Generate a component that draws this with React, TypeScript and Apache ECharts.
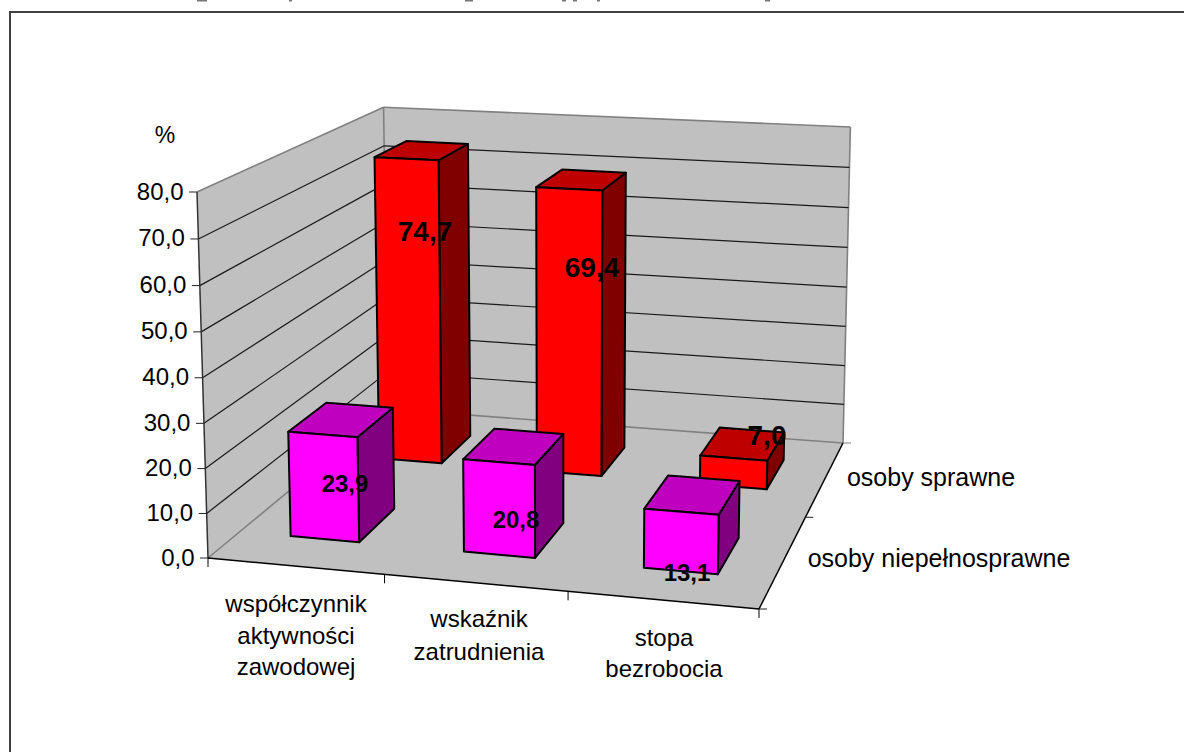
import React, { useEffect, useRef } from "react";
import * as echarts from "echarts";

// ---- data ----
const categoryLines = [
  ["współczynnik", "aktywności", "zawodowej"],
  ["wskaźnik", "zatrudnienia"],
  ["stopa", "bezrobocia"],
];
const depthNames = ["osoby niepełnosprawne", "osoby sprawne"];
const disabledValues = [23.9, 20.8, 13.1];
const ableValues = [74.7, 69.4, 7.0];
const valueTicks = [0, 10, 20, 30, 40, 50, 60, 70, 80];
const axisUnit = "%";

// ---- layout: the eight-cornered box drawn in perspective ----
const A = [208, 558]; // front left floor
const B = [759, 609]; // front right floor
const C = [388, 409]; // back left floor
const D = [843, 443]; // back right floor
const E = [197, 192]; // front left top
const WW = 0.97;

const det = (B[0] - D[0]) * (C[1] - D[1]) - (C[0] - D[0]) * (B[1] - D[1]);
const WU = ((A[0] - D[0]) * (C[1] - D[1]) - (C[0] - D[0]) * (A[1] - D[1])) / det;
const WV = ((B[0] - D[0]) * (A[1] - D[1]) - (A[0] - D[0]) * (B[1] - D[1])) / det;

function project(u: number, v: number, w: number): number[] {
  const den = 1 + u * (WU - 1) + v * (WV - 1) + w * (WW - 1);
  const f = (i: number) =>
    (A[i] + u * (WU * B[i] - A[i]) + v * (WV * C[i] - A[i]) + w * (WW * E[i] - A[i])) / den;
  return [f(0), f(1)];
}

// The hidden cartesian grid: its scales turn (category position, value) into pixels,
// and these are read as fractions of the box before projection.
const GRID = { left: 100, top: 100, width: 900, height: 500 };
function toBox(api: any, cat: number, value: number): [number, number] {
  const c = api.coord([cat, value]);
  return [(c[0] - GRID.left) / GRID.width, (GRID.top + GRID.height - c[1]) / GRID.height];
}

const FONT = "'Liberation Sans', Arial, sans-serif";
const AXIS_SIZE = 24;
const DEPTH_SIZE = 25;
const WALL = "#C0C0C0";
const EDGE = "#808080";
const GRIDLINE = "#1a1a1a";

const catLabelPos = [
  [296, [603, 635, 666]],
  [479, [618, 651]],
  [664, [637, 668]],
] as [number, number[]][];
const depthLabelPos = [
  [939, 558],
  [931, 477],
];
const unitPos = [165, 135];
const valueLabelPos = {
  disabled: [[345, 483, 24], [516, 519, 24], [687, 572, 24]],
  able: [[425, 231, 28], [592, 267, 28], [767, 435, 28]],
};
const titleBits = [[197, 10], [289, 3], [465, 8], [562, 4], [573, 4], [597, 3], [765, 5]];

const line = (p: number[], q: number[], stroke: string, lineWidth = 1) => ({
  type: "line",
  silent: true,
  shape: { x1: p[0], y1: p[1], x2: q[0], y2: q[1] },
  style: { stroke, lineWidth },
});
const poly = (pts: number[][], fill: string, stroke: string, lineWidth = 0) => ({
  type: "polygon",
  silent: true,
  shape: { points: pts },
  style: { fill, stroke, lineWidth, lineJoin: "round" },
});
const text = (t: string, x: number, y: number, size: number, align = "center", bold = false) => ({
  type: "text",
  silent: true,
  style: {
    text: t,
    x,
    y,
    fill: "#000",
    fontFamily: FONT,
    fontSize: size,
    fontWeight: bold ? "bold" : "normal",
    align,
    verticalAlign: "middle",
  },
});

const fmt = (n: number) => n.toFixed(1).replace(".", ",");

function wallsItem(_p: any, api: any) {
  const [u0, w0] = toBox(api, 0, 0);
  const [u1, w1] = toBox(api, 3, 80);
  const a = project(u0, 0, w0);
  const b = project(u1, 0, w0);
  const c = project(u0, 1, w0);
  const d = project(u1, 1, w0);
  const e = project(u0, 0, w1);
  const f = project(u0, 1, w1);
  const g = project(u1, 1, w1);
  return {
    type: "group",
    children: [
      poly([a, b, d, c], WALL, WALL),
      poly([a, c, f, e], WALL, WALL),
      poly([c, d, g, f], WALL, WALL),
      line(a, c, EDGE, 1.6),
      line(c, d, EDGE, 1.6),
      line(c, f, EDGE, 1.6),
      line(d, g, EDGE, 1.6),
      line(e, f, EDGE, 1.6),
      line(f, g, EDGE, 1.6),
    ],
  };
}

function gridlineItem(_p: any, api: any) {
  const tick = api.value(0);
  const [u0, w] = toBox(api, 0, tick);
  const [u1] = toBox(api, 3, tick);
  const a = project(u0, 0, w);
  const b = project(u0, 1, w);
  const c = project(u1, 1, w);
  const inner = tick > 0 && tick < 80;
  return {
    type: "group",
    children: [
      ...(inner ? [line(a, b, GRIDLINE, 1.2), line(b, c, GRIDLINE, 1.2)] : []),
    ],
  };
}

function axisItem(_p: any, api: any) {
  const [u0, w0] = toBox(api, 0, 0);
  const [u1, w1] = toBox(api, 3, 80);
  const a = project(u0, 0, w0);
  const b = project(u1, 0, w0);
  const d = project(u1, 1, w0);
  const e = project(u0, 0, w1);
  const children: any[] = [
    line(a, e, "#333333", 1.5),
    line(a, b, "#000", 1.5),
    line(b, d, "#000", 1.5),
  ];
  valueTicks.forEach((t) => {
    const [, w] = toBox(api, 0, t);
    const p = project(u0, 0, w);
    children.push(line(p, [p[0] - 8, p[1]], "#222", 1));
    children.push(text(fmt(t), p[0] - 13.5, p[1] - 1, AXIS_SIZE, "right"));
  });
  [0, 1, 2, 3].forEach((i) => {
    const [u] = toBox(api, i, 0);
    const p = project(u, 0, w0);
    children.push(line(p, [p[0], p[1] + 9], "#000", 1));
  });
  [0, 0.5, 1].forEach((v) => {
    const p = project(u1, v, w0);
    children.push(line(p, [p[0] + 8, p[1]], v === 1 ? EDGE : "#222", 1));
  });
  return { type: "group", children };
}

function barItem(depth: number, front: string, top: string, side: string) {
  return (_p: any, api: any) => {
    const cat = api.value(0);
    const val = api.value(1);
    const [u0, w0] = toBox(api, cat + 0.3, 0);
    const [u1, w1] = toBox(api, cat + 0.7, val);
    const v0 = (depth + 0.3) / 2;
    const v1 = (depth + 0.7) / 2;
    const fbl = project(u0, v0, w0);
    const fbr = project(u1, v0, w0);
    const ftl = project(u0, v0, w1);
    const ftr = project(u1, v0, w1);
    const bbr = project(u1, v1, w0);
    const btl = project(u0, v1, w1);
    const btr = project(u1, v1, w1);
    return {
      type: "group",
      children: [
        poly([fbr, bbr, btr, ftr], side, "#000", 2),
        poly([ftl, ftr, btr, btl], top, "#000", 2),
        poly([fbl, fbr, ftr, ftl], front, "#000", 2),
      ],
    };
  };
}

function categoryLabelItem(p: any) {
  const i = p.dataIndex;
  const [x, ys] = catLabelPos[i];
  return {
    type: "group",
    children: categoryLines[i].map((t, k) => text(t, x, ys[k], AXIS_SIZE)),
  };
}

function valueLabelItem(values: number[], pos: number[][]) {
  return (p: any) => {
    const i = p.dataIndex;
    return text(fmt(values[i]), pos[i][0], pos[i][1], pos[i][2], "center", true);
  };
}

const custom = (renderItem: any, data: any[]) => ({
  type: "custom",
  coordinateSystem: "cartesian2d",
  clip: false,
  silent: true,
  renderItem,
  data,
});

export default function App() {
  const ref = useRef<HTMLDivElement>(null);
  useEffect(() => {
    const chart = echarts.init(ref.current!, null, { renderer: "svg" });
    chart.setOption({
      animation: false,
      backgroundColor: "#fff",
      grid: { ...GRID },
      xAxis: { type: "value", min: 0, max: 3, show: false },
      yAxis: { type: "value", min: 0, max: 80, show: false },
      graphic: [
        { type: "rect", shape: { x: 9, y: 11, width: 1175, height: 2 }, style: { fill: "#404040" } },
        { type: "rect", shape: { x: 9, y: 11, width: 2, height: 741 }, style: { fill: "#404040" } },
        ...titleBits.map(([x, w]) => ({
          type: "rect",
          shape: { x, y: 0, width: w, height: 1.5 },
          style: { fill: "#777" },
        })),
        {
          type: "text",
          style: { text: axisUnit, x: unitPos[0], y: unitPos[1], fill: "#000", fontFamily: FONT, fontSize: AXIS_SIZE - 1, align: "center", verticalAlign: "middle" },
        },
        {
          type: "text",
          style: { text: depthNames[0], x: depthLabelPos[0][0], y: depthLabelPos[0][1], fill: "#000", fontFamily: FONT, fontSize: DEPTH_SIZE, align: "center", verticalAlign: "middle" },
        },
        {
          type: "text",
          style: { text: depthNames[1], x: depthLabelPos[1][0], y: depthLabelPos[1][1], fill: "#000", fontFamily: FONT, fontSize: DEPTH_SIZE, align: "center", verticalAlign: "middle" },
        },
      ],
      series: [
        custom(wallsItem, [[0, 0]]),
        custom(gridlineItem, valueTicks.map((t) => [t])),
        custom(axisItem, [[0, 0]]),
        custom(barItem(1, "#FF0000", "#BF0000", "#800000"), ableValues.map((v, i) => [i, v])),
        custom(barItem(0, "#FF00FF", "#BF00BF", "#800080"), disabledValues.map((v, i) => [i, v])),
        custom(categoryLabelItem, categoryLines.map((_, i) => [i, 0])),
        custom(valueLabelItem(ableValues, valueLabelPos.able), ableValues.map((v, i) => [i, v])),
        custom(valueLabelItem(disabledValues, valueLabelPos.disabled), disabledValues.map((v, i) => [i, v])),
      ],
    });
    return () => chart.dispose();
  }, []);
  return (
    <div
      ref={ref}
      style={{ position: "absolute", left: 0, top: 0, width: 1184, height: 752 }}
    />
  );
}
